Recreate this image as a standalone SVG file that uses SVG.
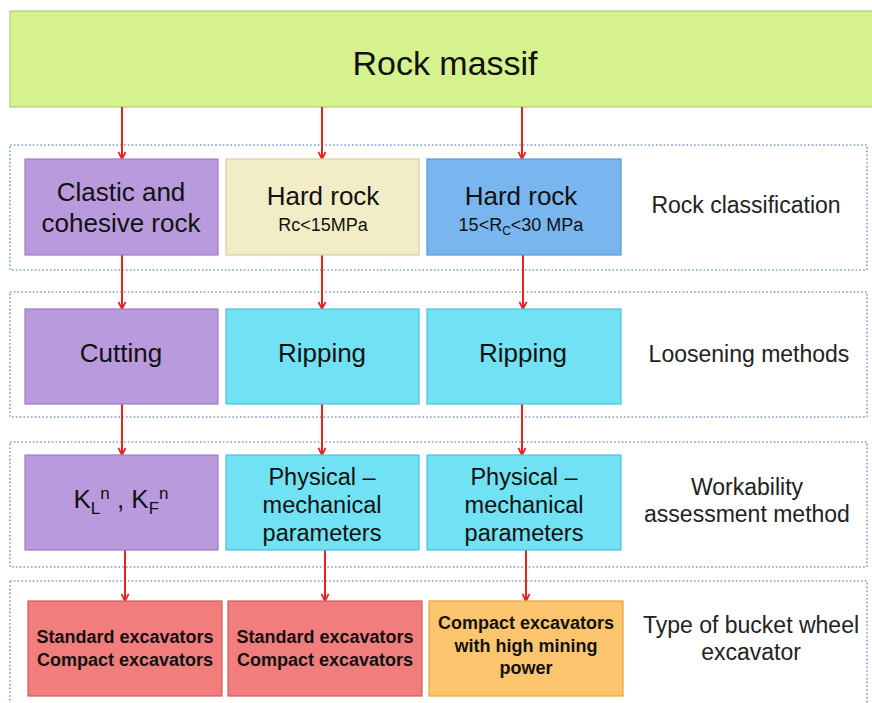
<svg xmlns="http://www.w3.org/2000/svg" width="872" height="703" viewBox="0 0 872 703">
<style>
text{font-family:"Liberation Sans",Arial,sans-serif;fill:#111;text-anchor:middle}
.big{font-size:26px}
.mid{font-size:23.5px}
.sm{font-size:18px}
.lab{font-size:23px;fill:#222}
.b{font-size:18px;font-weight:bold}
.grp{fill:none;stroke:#7a9fd3;stroke-width:1.6;stroke-dasharray:1.6 2.2}
.con{stroke:#e8231f;stroke-width:2;fill:none;marker-end:url(#ah)}
.purple{fill:#b99add;stroke:#9d7cc4;stroke-width:1.2}
.beige{fill:#f2edc6;stroke:#d6cf9c;stroke-width:1.2}
.blue{fill:#79b6ef;stroke:#5b97d0;stroke-width:1.2}
.cyan{fill:#71e1f4;stroke:#4dc1d8;stroke-width:1.2}
.red{fill:#f17d7c;stroke:#d25a5a;stroke-width:1.2}
.orange{fill:#fdc56d;stroke:#e3a443;stroke-width:1.2}
</style>
<defs>
<marker id="ah" viewBox="0 0 10 10" refX="9" refY="5" markerWidth="9" markerHeight="9" markerUnits="userSpaceOnUse" orient="auto">
<path d="M1,1 L9,5 L1,9" fill="none" stroke="#e8231f" stroke-width="2"/>
</marker>
</defs>
<rect width="872" height="703" fill="#fff"/>
<g id="groups">
<rect class="grp" x="10" y="145" width="857" height="125"/>
<rect class="grp" x="10" y="292" width="857" height="125"/>
<rect class="grp" x="10" y="442" width="857" height="125"/>
<rect class="grp" x="10" y="581" width="857" height="130"/>
</g>
<g id="top">
<rect x="10" y="11" width="870" height="96" fill="#d6f28f" stroke="#afcc78" stroke-width="1.2"/>
<text x="445" y="75" style="font-size:34px">Rock massif</text>
</g>
<g id="connectors">
<line class="con" x1="122" y1="107" x2="122" y2="159"/>
<line class="con" x1="322" y1="107" x2="322" y2="159"/>
<line class="con" x1="522" y1="107" x2="522" y2="159"/>
<line class="con" x1="122" y1="255" x2="122" y2="309"/>
<line class="con" x1="322" y1="255" x2="322" y2="309"/>
<line class="con" x1="523" y1="255" x2="523" y2="309"/>
<line class="con" x1="122" y1="404" x2="122" y2="455"/>
<line class="con" x1="322" y1="404" x2="322" y2="455"/>
<line class="con" x1="522" y1="404" x2="522" y2="455"/>
<line class="con" x1="125" y1="550" x2="125" y2="601"/>
<line class="con" x1="325" y1="550" x2="325" y2="601"/>
<line class="con" x1="526" y1="550" x2="526" y2="601"/>
</g>
<g id="clastic">
<rect class="purple" x="25" y="159" width="193" height="96"/>
<text class="big" x="121" y="201">Clastic and</text>
<text class="big" x="121" y="232">cohesive rock</text>
</g>
<g id="hard1">
<rect class="beige" x="226" y="159" width="193" height="96"/>
<text class="big" x="323" y="205">Hard rock</text>
<text class="sm" x="323" y="231">Rc&lt;15MPa</text>
</g>
<g id="hard2">
<rect class="blue" x="427" y="159" width="194" height="96"/>
<text class="big" x="521" y="205">Hard rock</text>
<text class="sm" x="521" y="231">15&lt;R<tspan style="font-size:12px" dy="4">C</tspan><tspan dy="-4">&lt;30 MPa</tspan></text>
</g>
<g id="lab1"><text class="lab" x="746" y="213">Rock classification</text></g>
<g id="cutting">
<rect class="purple" x="25" y="309" width="193" height="95"/>
<text class="big" x="121" y="362">Cutting</text>
</g>
<g id="ripping1">
<rect class="cyan" x="226" y="309" width="193" height="95"/>
<text class="big" x="322" y="362">Ripping</text>
</g>
<g id="ripping2">
<rect class="cyan" x="427" y="309" width="194" height="95"/>
<text class="big" x="523" y="362">Ripping</text>
</g>
<g id="lab2"><text class="lab" x="749" y="362">Loosening methods</text></g>
<g id="kl">
<rect class="purple" x="25" y="455" width="193" height="95"/>
<text class="big" x="121" y="508">K<tspan style="font-size:17px" dy="6">L</tspan><tspan style="font-size:17px" dy="-15">n</tspan><tspan dy="9"> , K</tspan><tspan style="font-size:17px" dy="6">F</tspan><tspan style="font-size:17px" dy="-15">n</tspan></text>
</g>
<g id="phys1">
<rect class="cyan" x="226" y="455" width="193" height="95"/>
<text class="mid" x="322" y="485">Physical –</text>
<text class="mid" x="322" y="513">mechanical</text>
<text class="mid" x="322" y="541">parameters</text>
</g>
<g id="phys2">
<rect class="cyan" x="427" y="455" width="194" height="95"/>
<text class="mid" x="524" y="485">Physical –</text>
<text class="mid" x="524" y="513">mechanical</text>
<text class="mid" x="524" y="541">parameters</text>
</g>
<g id="lab3">
<text class="lab" x="747" y="495">Workability</text>
<text class="lab" x="747" y="522">assessment method</text>
</g>
<g id="exc1">
<rect class="red" x="28" y="601" width="194" height="95"/>
<text class="b" x="125" y="643">Standard excavators</text>
<text class="b" x="125" y="666">Compact excavators</text>
</g>
<g id="exc2">
<rect class="red" x="228" y="601" width="194" height="95"/>
<text class="b" x="325" y="643">Standard excavators</text>
<text class="b" x="325" y="666">Compact excavators</text>
</g>
<g id="exc3">
<rect class="orange" x="429" y="601" width="194" height="95"/>
<text class="b" x="526" y="629">Compact excavators</text>
<text class="b" x="526" y="652">with high mining</text>
<text class="b" x="526" y="674">power</text>
</g>
<g id="lab4">
<text class="lab" x="751" y="633">Type of bucket wheel</text>
<text class="lab" x="751" y="660">excavator</text>
</g>
</svg>
